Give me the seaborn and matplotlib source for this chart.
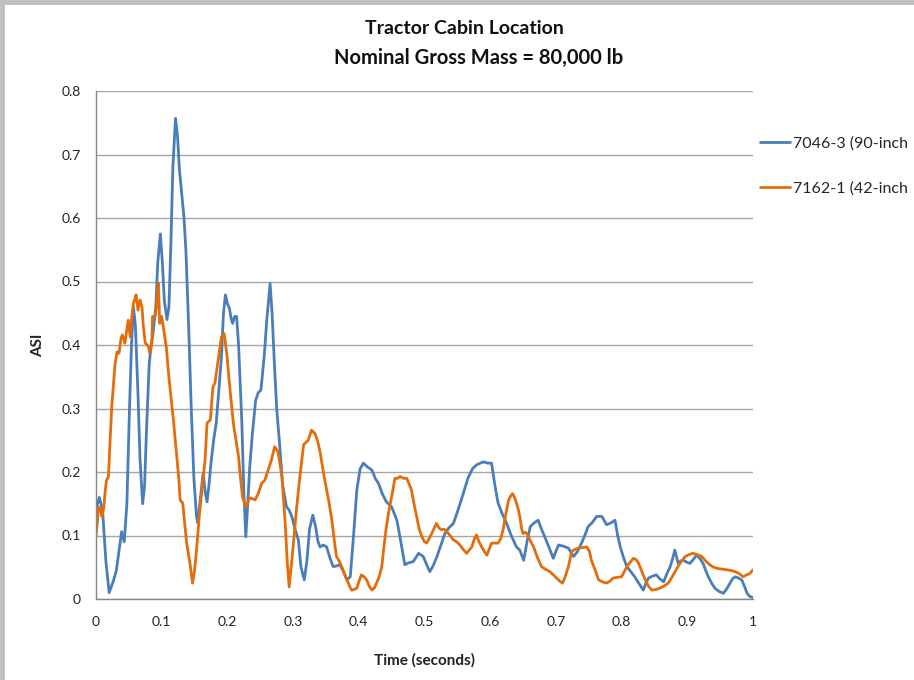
import numpy as np
import pandas as pd
import matplotlib
matplotlib.use("Agg")
import matplotlib.pyplot as plt
import seaborn as sns
from matplotlib.lines import Line2D

# ---------------- data ----------------
blue_t = [0.000, 0.005, 0.010, 0.015, 0.020, 0.026, 0.031, 0.035, 0.039, 0.043, 0.047, 0.051, 0.054, 0.057,
          0.060, 0.064, 0.067, 0.071, 0.074, 0.077, 0.081, 0.084, 0.087, 0.091, 0.094, 0.098, 0.101, 0.104,
          0.108, 0.111, 0.114, 0.117, 0.121, 0.124, 0.127, 0.130, 0.134, 0.137, 0.141, 0.145, 0.149, 0.153,
          0.155, 0.158, 0.163, 0.166, 0.169, 0.172, 0.175, 0.179, 0.183, 0.187, 0.191, 0.194, 0.197, 0.200,
          0.203, 0.206, 0.208, 0.211, 0.214, 0.217, 0.222, 0.225, 0.228, 0.231, 0.234, 0.238, 0.243, 0.247,
          0.251, 0.254, 0.256, 0.260, 0.265, 0.268, 0.271, 0.275, 0.279, 0.284, 0.290, 0.294, 0.298, 0.303,
          0.308, 0.312, 0.317, 0.321, 0.325, 0.330, 0.334, 0.338, 0.341, 0.346, 0.351, 0.356, 0.361, 0.366,
          0.371, 0.376, 0.382, 0.387, 0.392, 0.397, 0.402, 0.407, 0.413, 0.420, 0.425, 0.430, 0.436, 0.442,
          0.450, 0.458, 0.464, 0.470, 0.476, 0.483, 0.491, 0.498, 0.503, 0.508, 0.513, 0.519, 0.525, 0.531,
          0.537, 0.544, 0.551, 0.559, 0.566, 0.573, 0.579, 0.585, 0.590, 0.596, 0.602, 0.607, 0.612, 0.618,
          0.625, 0.632, 0.640, 0.645, 0.651, 0.656, 0.661, 0.667, 0.673, 0.678, 0.683, 0.690, 0.696, 0.700,
          0.704, 0.712, 0.719, 0.727, 0.733, 0.739, 0.744, 0.749, 0.755, 0.762, 0.770, 0.777, 0.784, 0.790,
          0.794, 0.798, 0.803, 0.808, 0.814, 0.820, 0.826, 0.833, 0.837, 0.841, 0.847, 0.853, 0.858, 0.864,
          0.869, 0.874, 0.878, 0.881, 0.884, 0.886, 0.890, 0.894, 0.899, 0.904, 0.909, 0.914, 0.919, 0.924,
          0.928, 0.932, 0.937, 0.942, 0.948, 0.955, 0.960, 0.965, 0.969, 0.973, 0.978, 0.983, 0.987, 0.991,
          0.995, 1.000]
blue_v = [0.140, 0.160, 0.140, 0.060, 0.010, 0.027, 0.045, 0.075, 0.106, 0.090, 0.150, 0.300, 0.400, 0.460,
          0.430, 0.320, 0.220, 0.150, 0.180, 0.270, 0.370, 0.400, 0.420, 0.460, 0.530, 0.575, 0.530, 0.470,
          0.440, 0.460, 0.560, 0.680, 0.757, 0.730, 0.676, 0.644, 0.600, 0.545, 0.430, 0.300, 0.190, 0.130,
          0.120, 0.150, 0.198, 0.170, 0.153, 0.180, 0.214, 0.250, 0.277, 0.330, 0.382, 0.450, 0.479, 0.465,
          0.458, 0.440, 0.434, 0.445, 0.445, 0.400, 0.277, 0.170, 0.098, 0.150, 0.208, 0.260, 0.313, 0.325,
          0.329, 0.360, 0.382, 0.440, 0.497, 0.450, 0.382, 0.300, 0.250, 0.180, 0.145, 0.140, 0.130, 0.110,
          0.093, 0.050, 0.030, 0.060, 0.110, 0.132, 0.115, 0.090, 0.082, 0.085, 0.082, 0.065, 0.051, 0.052,
          0.054, 0.045, 0.030, 0.035, 0.100, 0.172, 0.205, 0.214, 0.208, 0.203, 0.190, 0.182, 0.165, 0.153,
          0.145, 0.124, 0.090, 0.054, 0.057, 0.059, 0.072, 0.067, 0.055, 0.043, 0.052, 0.067, 0.085, 0.103,
          0.112, 0.119, 0.140, 0.166, 0.190, 0.205, 0.211, 0.214, 0.216, 0.214, 0.214, 0.180, 0.151, 0.135,
          0.119, 0.100, 0.082, 0.077, 0.061, 0.090, 0.114, 0.120, 0.124, 0.110, 0.098, 0.080, 0.064, 0.075,
          0.085, 0.083, 0.080, 0.067, 0.075, 0.088, 0.100, 0.114, 0.120, 0.130, 0.130, 0.117, 0.120, 0.124,
          0.100, 0.082, 0.065, 0.051, 0.043, 0.035, 0.025, 0.014, 0.025, 0.033, 0.036, 0.038, 0.032, 0.027,
          0.040, 0.051, 0.065, 0.077, 0.065, 0.056, 0.060, 0.061, 0.058, 0.056, 0.062, 0.069, 0.064, 0.056,
          0.045, 0.035, 0.025, 0.017, 0.012, 0.009, 0.016, 0.025, 0.032, 0.035, 0.033, 0.030, 0.020, 0.009,
          0.004, 0.002]

orange_t = [0.000, 0.002, 0.004, 0.007, 0.009, 0.012, 0.014, 0.016, 0.019, 0.021, 0.024, 0.026, 0.029, 0.032,
            0.035, 0.038, 0.040, 0.042, 0.044, 0.047, 0.049, 0.052, 0.054, 0.057, 0.059, 0.061, 0.064, 0.067,
            0.070, 0.072, 0.075, 0.078, 0.080, 0.082, 0.085, 0.086, 0.090, 0.092, 0.095, 0.097, 0.100, 0.103,
            0.107, 0.110, 0.113, 0.118, 0.123, 0.126, 0.128, 0.132, 0.135, 0.138, 0.143, 0.147, 0.150, 0.153,
            0.158, 0.162, 0.166, 0.169, 0.174, 0.178, 0.181, 0.186, 0.191, 0.195, 0.199, 0.203, 0.209, 0.213,
            0.217, 0.220, 0.223, 0.228, 0.234, 0.238, 0.242, 0.247, 0.252, 0.257, 0.262, 0.267, 0.272, 0.277,
            0.283, 0.288, 0.291, 0.294, 0.298, 0.301, 0.305, 0.310, 0.316, 0.323, 0.328, 0.333, 0.337, 0.341,
            0.346, 0.351, 0.355, 0.359, 0.363, 0.366, 0.370, 0.374, 0.378, 0.382, 0.386, 0.389, 0.393, 0.397,
            0.401, 0.404, 0.408, 0.412, 0.416, 0.420, 0.424, 0.427, 0.431, 0.435, 0.438, 0.442, 0.446, 0.450,
            0.455, 0.459, 0.463, 0.468, 0.473, 0.477, 0.480, 0.484, 0.488, 0.492, 0.496, 0.500, 0.503, 0.507,
            0.511, 0.515, 0.518, 0.522, 0.526, 0.530, 0.534, 0.539, 0.544, 0.549, 0.554, 0.559, 0.564, 0.568,
            0.572, 0.576, 0.579, 0.583, 0.587, 0.591, 0.595, 0.599, 0.602, 0.607, 0.612, 0.616, 0.620, 0.624,
            0.628, 0.631, 0.634, 0.637, 0.640, 0.643, 0.645, 0.648, 0.650, 0.653, 0.656, 0.661, 0.666, 0.672,
            0.678, 0.684, 0.691, 0.696, 0.701, 0.706, 0.710, 0.714, 0.719, 0.724, 0.729, 0.734, 0.740, 0.747,
            0.751, 0.754, 0.760, 0.765, 0.771, 0.777, 0.782, 0.787, 0.793, 0.800, 0.804, 0.808, 0.813, 0.818,
            0.822, 0.826, 0.831, 0.836, 0.841, 0.846, 0.852, 0.858, 0.864, 0.871, 0.877, 0.884, 0.890, 0.897,
            0.903, 0.909, 0.915, 0.922, 0.928, 0.934, 0.940, 0.947, 0.954, 0.960, 0.966, 0.973, 0.979, 0.985,
            0.990, 0.995, 1.000]
orange_v = [0.100, 0.120, 0.145, 0.140, 0.130, 0.145, 0.170, 0.187, 0.193, 0.240, 0.303, 0.329, 0.370, 0.389,
            0.387, 0.410, 0.416, 0.410, 0.403, 0.424, 0.439, 0.413, 0.439, 0.466, 0.472, 0.479, 0.455, 0.471,
            0.460, 0.430, 0.403, 0.400, 0.397, 0.387, 0.403, 0.445, 0.445, 0.460, 0.497, 0.434, 0.445, 0.424,
            0.397, 0.360, 0.329, 0.280, 0.224, 0.190, 0.156, 0.151, 0.120, 0.088, 0.056, 0.025, 0.045, 0.077,
            0.140, 0.180, 0.219, 0.277, 0.282, 0.334, 0.340, 0.376, 0.413, 0.418, 0.387, 0.340, 0.277, 0.250,
            0.224, 0.190, 0.161, 0.145, 0.159, 0.158, 0.156, 0.166, 0.182, 0.187, 0.203, 0.219, 0.240, 0.232,
            0.193, 0.119, 0.060, 0.019, 0.060, 0.093, 0.140, 0.190, 0.243, 0.250, 0.266, 0.261, 0.250, 0.232,
            0.200, 0.172, 0.150, 0.124, 0.090, 0.067, 0.060, 0.051, 0.040, 0.030, 0.020, 0.014, 0.015, 0.017,
            0.030, 0.038, 0.035, 0.030, 0.020, 0.014, 0.018, 0.025, 0.035, 0.051, 0.080, 0.114, 0.140, 0.161,
            0.190, 0.190, 0.193, 0.190, 0.190, 0.180, 0.172, 0.150, 0.130, 0.110, 0.098, 0.090, 0.088, 0.095,
            0.103, 0.112, 0.119, 0.112, 0.109, 0.110, 0.106, 0.100, 0.093, 0.090, 0.085, 0.078, 0.072, 0.077,
            0.082, 0.095, 0.101, 0.090, 0.082, 0.075, 0.069, 0.080, 0.088, 0.088, 0.088, 0.095, 0.111, 0.135,
            0.156, 0.162, 0.166, 0.160, 0.151, 0.140, 0.130, 0.110, 0.103, 0.105, 0.103, 0.092, 0.082, 0.065,
            0.051, 0.047, 0.043, 0.038, 0.033, 0.028, 0.025, 0.035, 0.051, 0.075, 0.078, 0.080, 0.081, 0.082,
            0.075, 0.061, 0.045, 0.030, 0.027, 0.025, 0.028, 0.033, 0.034, 0.035, 0.043, 0.051, 0.058, 0.064,
            0.062, 0.056, 0.043, 0.030, 0.020, 0.014, 0.015, 0.017, 0.020, 0.025, 0.035, 0.048, 0.058, 0.067,
            0.070, 0.072, 0.070, 0.067, 0.060, 0.054, 0.050, 0.048, 0.047, 0.046, 0.045, 0.043, 0.040, 0.035,
            0.038, 0.040, 0.046]

series_names = ["7046-3 (90-inch", "7162-1 (42-inch"]
x_ticks = [0, 0.1, 0.2, 0.3, 0.4, 0.5, 0.6, 0.7, 0.8, 0.9, 1]
x_tick_labels = ["0", "0.1", "0.2", "0.3", "0.4", "0.5", "0.6", "0.7", "0.8", "0.9", "1"]
y_ticks = [0, 0.1, 0.2, 0.3, 0.4, 0.5, 0.6, 0.7, 0.8]
y_tick_labels = ["0", "0.1", "0.2", "0.3", "0.4", "0.5", "0.6", "0.7", "0.8"]

df = pd.concat([
    pd.DataFrame({"t": blue_t, "asi": blue_v, "series": series_names[0]}),
    pd.DataFrame({"t": orange_t, "asi": orange_v, "series": series_names[1]}),
], ignore_index=True)

# ---------------- style ----------------
sns.set_theme(style="white")
plt.rcParams["font.family"] = ["Lato", "DejaVu Sans"]

fig = plt.figure(figsize=(9.14, 6.80), dpi=100)
ax = fig.add_axes([96 / 914, 1 - 599 / 680, (753 - 96) / 914, (599 - 91) / 680])

palette = {series_names[0]: "#4a7ebb", series_names[1]: "#e46c0a"}
sns.lineplot(data=df, x="t", y="asi", hue="series", palette=palette, ax=ax,
             linewidth=2.0, sort=False, estimator=None, legend=True)

ax.set_xlim(0, 1)
ax.set_ylim(0, 0.8)
ax.set_xticks(x_ticks)
ax.set_xticklabels(x_tick_labels)
ax.set_yticks(y_ticks)
ax.set_yticklabels(y_tick_labels)
ax.tick_params(axis="both", labelsize=10, colors="#222222", length=4, width=1,
               direction="out", color="#868686")
ax.tick_params(axis="x", pad=8)
ax.tick_params(axis="y", pad=7)
ax.grid(axis="y", color="#a6a6a6", linewidth=1.0)
ax.grid(axis="x", visible=False)
ax.set_axisbelow(True)
for s in ["top", "right"]:
    ax.spines[s].set_visible(False)
for s in ["left", "bottom"]:
    ax.spines[s].set_color("#868686")
    ax.spines[s].set_linewidth(1.0)

ax.set_xlabel("Time (seconds)", fontsize=11, fontweight="bold", color="#222222", labelpad=18)
ax.set_ylabel("ASI", fontsize=11, fontweight="bold", color="#222222", labelpad=12)

fig.text(464 / 914, 1 - 28 / 680, "Tractor Cabin Location", ha="center", va="center",
         fontsize=14, fontweight="bold", color="#111111")
fig.text(479 / 914, 1 - 58 / 680, "Nominal Gross Mass = 80,000 lb", ha="center", va="center",
         fontsize=14.5, fontweight="bold", color="#111111")

handles, labels = ax.get_legend_handles_labels()
ax.legend(handles, labels, loc="center left", bbox_to_anchor=(760 / 914, 1 - 166 / 680),
          bbox_transform=fig.transFigure, frameon=False, fontsize=11.5,
          handlelength=1.9, handletextpad=0.15, labelspacing=1.95, borderaxespad=0,
          borderpad=0)

# outer chart frame (left and top edges visible)
fig.add_artist(Line2D([2 / 914, 2 / 914], [0, 1], transform=fig.transFigure,
                      color="#bfbfbf", linewidth=3.5))
fig.add_artist(Line2D([0, 1], [1 - 2 / 680, 1 - 2 / 680], transform=fig.transFigure,
                      color="#bfbfbf", linewidth=3.5))

fig.savefig("out.png", dpi=100)
